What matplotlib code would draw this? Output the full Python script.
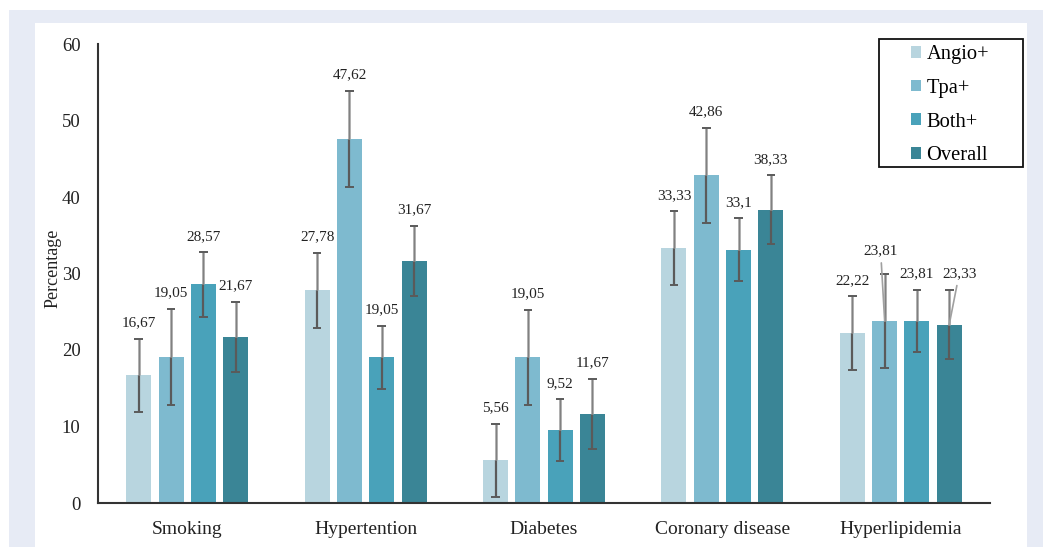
import matplotlib
matplotlib.use("Agg")
import matplotlib.pyplot as plt
import numpy as np
from matplotlib.patches import Rectangle, Patch

plt.rcParams['font.family'] = ['Liberation Serif', 'DejaVu Serif']

categories = ["Smoking", "Hypertention", "Diabetes", "Coronary disease", "Hyperlipidemia"]
series = ["Angio+", "Tpa+", "Both+", "Overall"]
angio = [16.67, 27.78, 5.56, 33.33, 22.22]
tpa = [19.05, 47.62, 19.05, 42.86, 23.81]
both = [28.57, 19.05, 9.52, 33.1, 23.81]
overall = [21.67, 31.67, 11.67, 38.33, 23.33]
angio_err = [4.8, 4.9, 4.8, 4.8, 4.8]
tpa_err = [6.3, 6.25, 6.2, 6.2, 6.1]
both_err = [4.2, 4.1, 4.05, 4.1, 4.05]
overall_err = [4.6, 4.6, 4.6, 4.5, 4.5]
yticks = [0, 10, 20, 30, 40, 50, 60]

colors = ['#B8D5DF', '#7EBACF', '#49A2BA', '#3A8596']
values = [angio, tpa, both, overall]
errors = [angio_err, tpa_err, both_err, overall_err]

W, H = 1043, 547
fig = plt.figure(figsize=(W / 100, H / 100), dpi=100)
fig.patch.set_facecolor('white')
# outer grey frame and white panel
fig.patches.append(Rectangle((9 / W, 0), 1 - 9 / W, 1 - 10 / H, transform=fig.transFigure,
                             facecolor='#E7EBF5', edgecolor='none', zorder=-10))
fig.patches.append(Rectangle((35 / W, 0), (1027 - 35) / W, 1 - 23 / H, transform=fig.transFigure,
                             facecolor='white', edgecolor='none', zorder=-9))

ax = fig.add_axes([98 / W, 1 - 503 / H, (990 - 98) / W, (503 - 44) / H])
ax.set_facecolor('none')
ax.set_ylim(0, 60)
ax.set_xlim(-0.5, len(categories) - 0.5)
x = np.arange(len(categories))
pitch = 0.181
width = 0.14
offsets = [-1.5 * pitch, -0.5 * pitch, 0.5 * pitch, 1.5 * pitch]

special = {(4, 1): (-2.9, 50.4), (4, 3): (7.2, 36.7)}

for si, (vals, errs, col) in enumerate(zip(values, errors, colors)):
    xs = x + offsets[si]
    ax.bar(xs, vals, width=width, color=col, edgecolor='none', zorder=2)
    vals_a = np.array(vals)
    errs_a = np.array(errs)
    # lower part (inside bar) dark, upper part (outside bar) lighter grey
    ax.vlines(xs, vals_a - errs_a, vals_a, color='#5a5a5a', lw=1.6, zorder=3)
    ax.vlines(xs, vals_a, vals_a + errs_a, color='#a8a8a8', lw=2.0, zorder=3)
    ax.vlines(xs, vals_a, vals_a + errs_a, color='#7a7a7a', lw=0.6, zorder=3)
    for ci, (xx, v, e) in enumerate(zip(xs, vals, errs)):
        for yy in (v - e, v + e):
            ax.plot([xx - 0.024, xx + 0.024], [yy, yy], color='#5a5a5a', lw=1.4,
                    zorder=4, solid_capstyle='butt')
        label = f"{v:g}".replace('.', ',')
        if (ci, si) in special:
            dx, dy = special[(ci, si)]
            ax.annotate(label, xy=(xx, v), xytext=(dx, dy), textcoords='offset points',
                        ha='center', va='center', fontsize=11, color='#222222',
                        arrowprops=dict(arrowstyle='-', color='#a0a0a0', lw=1.2,
                                        shrinkA=2, shrinkB=0), zorder=5)
        else:
            ax.annotate(label, xy=(xx, v + e), xytext=(0, 11.5), textcoords='offset points',
                        ha='center', va='center', fontsize=11, color='#222222', zorder=5)

ax.set_yticks(yticks)
ax.set_yticklabels([str(t) for t in yticks], fontsize=13.5)
ax.set_xticks(x)
ax.set_xticklabels(categories, fontsize=14)
ax.tick_params(axis='both', length=0, colors='#222222')
ax.tick_params(axis='y', pad=12.5)
ax.tick_params(axis='x', pad=13)
for s in ['top', 'right']:
    ax.spines[s].set_visible(False)
for s in ['left', 'bottom']:
    ax.spines[s].set_color('#333333')
    ax.spines[s].set_linewidth(1.5)

fig.text(53 / W, 1 - 268 / H, "Percentage", rotation=90, ha='center', va='center',
         fontsize=13, color='#222222')

# legend
fig.patches.append(Rectangle((879 / W, 1 - 167 / H), (1023 - 879) / W, (167 - 39) / H,
                             transform=fig.transFigure, facecolor='white',
                             edgecolor='#111111', lw=1.3, zorder=5))
handles = [Patch(facecolor=c, edgecolor='none') for c in colors]
leg = fig.legend(handles, series, loc='upper left', bbox_to_anchor=(911 / W, 1 - 45 / H),
                 bbox_transform=fig.transFigure, frameon=False, fontsize=14.8,
                 handlelength=0.5, handleheight=0.5, handletextpad=0.25,
                 labelspacing=0.72, borderpad=0.0, borderaxespad=0.0)
leg.set_zorder(6)

fig.savefig('out.png', dpi=100)
